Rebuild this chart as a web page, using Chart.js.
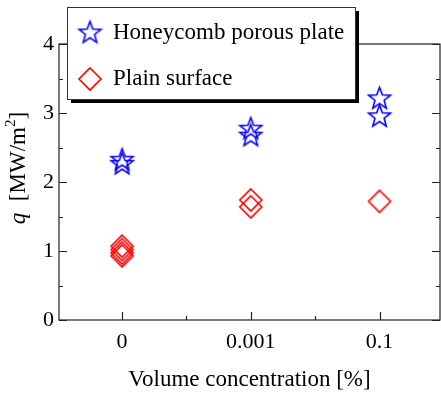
<!DOCTYPE html>
<html>
<head>
<meta charset="utf-8">
<script src="https://cdn.jsdelivr.net/npm/chart.js@4/dist/chart.umd.min.js"></script>
<style>
  body { margin: 0; background: #fff; }
  canvas { display: block; }
</style>
</head>
<body>
<canvas id="chart" width="441" height="394"></canvas>
<script>
// categories on the x axis
var categories = ["0", "0.001", "0.1"];
var yTicks = [0, 1, 2, 3, 4];

// Honeycomb porous plate
var honeyCat = ["0", "0", "0.001", "0.001", "0.1", "0.1"];
var honeyQ = [2.33, 2.27, 2.78, 2.68, 3.22, 2.96];

// Plain surface
var plainCat = ["0", "0", "0", "0", "0.001", "0.001", "0.1"];
var plainQ = [1.07, 1.02, 0.97, 0.93, 1.74, 1.64, 1.72];

var serif = "'Liberation Serif', 'Times New Roman', serif";

function toPoints(cats, vals) {
    return cats.map(function (c, i) {
        return { x: categories.indexOf(c), y: vals[i] };
    });
}

// marker images (open star / open diamond)
function makeMarker(r, color, trace) {
    var c = document.createElement("canvas");
    var s = Math.ceil(r * 2 + 4);
    c.width = s; c.height = s;
    var g = c.getContext("2d");
    trace(g, s / 2, s / 2, r);
    g.strokeStyle = color;
    g.lineWidth = 1.6;
    g.stroke();
    return c;
}
function traceStar(g, cx, cy, r) {
    var inner = r * 0.42;
    cy += 1;
    g.beginPath();
    for (var i = 0; i < 10; i++) {
        var rad = i % 2 === 0 ? r : inner;
        var a = -Math.PI / 2 + i * Math.PI / 5;
        var px = cx + rad * Math.cos(a), py = cy + rad * Math.sin(a);
        if (i === 0) g.moveTo(px, py); else g.lineTo(px, py);
    }
    g.closePath();
}
function traceDiamond(g, cx, cy, r) {
    g.beginPath();
    g.moveTo(cx, cy - r); g.lineTo(cx + r, cy);
    g.lineTo(cx, cy + r); g.lineTo(cx - r, cy);
    g.closePath();
}
var starImg = makeMarker(11.5, "#0000ff", traceStar);
var diamondImg = makeMarker(11, "#ff0000", traceDiamond);

var framePlugin = {
    id: "frame",
    afterDraw: function (chart) {
        var ctx = chart.ctx, a = chart.chartArea;
        var xs = chart.scales.x, ys = chart.scales.y;
        ctx.save();
        ctx.strokeStyle = "#222";
        ctx.lineWidth = 1.2;
        ctx.strokeRect(a.left, a.top, a.right - a.left, a.bottom - a.top);
        // inward ticks
        ctx.beginPath();
        xs.ticks.forEach(function (t) {
            var px = Math.round(xs.getPixelForValue(t.value)) + 0.5;
            var len = Number.isInteger(t.value) ? 8 : 4;
            ctx.moveTo(px, a.bottom); ctx.lineTo(px, a.bottom - len);
        });
        ys.ticks.forEach(function (t) {
            var py = Math.round(ys.getPixelForValue(t.value)) + 0.5;
            var len = Number.isInteger(t.value) ? 8 : 4;
            ctx.moveTo(a.left, py); ctx.lineTo(a.left + len, py);
            ctx.moveTo(a.right, py); ctx.lineTo(a.right - len, py);
        });
        ctx.stroke();

        // y axis title: q [MW/m2]
        ctx.translate(19, 168);
        ctx.rotate(-Math.PI / 2);
        ctx.fillStyle = "#000";
        ctx.textBaseline = "middle";
        var parts = [
            { t: "q", f: "italic 23px " + serif, dy: 0 },
            { t: "  [MW/m", f: "23px " + serif, dy: 0 },
            { t: "2", f: "15px " + serif, dy: -8 },
            { t: "]", f: "23px " + serif, dy: 0 }
        ];
        var total = 0;
        parts.forEach(function (p) { ctx.font = p.f; p.w = ctx.measureText(p.t).width; total += p.w; });
        var x = -total / 2;
        parts.forEach(function (p) {
            ctx.font = p.f;
            ctx.fillText(p.t, x, p.dy);
            x += p.w;
        });
        ctx.restore();

        // legend box with shadow
        ctx.save();
        var bx = 67, by = 7, bw = 288, bh = 92;
        ctx.fillStyle = "#000";
        ctx.fillRect(bx + 4, by + 4, bw, bh);
        ctx.fillStyle = "#fff";
        ctx.fillRect(bx, by, bw, bh);
        ctx.strokeStyle = "#333";
        ctx.lineWidth = 1;
        ctx.strokeRect(bx + 0.5, by + 0.5, bw, bh);
        ctx.drawImage(starImg, 90 - starImg.width / 2, 32 - starImg.height / 2);
        ctx.drawImage(diamondImg, 90 - diamondImg.width / 2, 79 - diamondImg.height / 2);
        ctx.fillStyle = "#000";
        ctx.font = "23px " + serif;
        ctx.textBaseline = "middle";
        ctx.fillText("Honeycomb porous plate", 113, 33);
        ctx.fillText("Plain surface", 113, 79);
        ctx.restore();
    }
};

new Chart(document.getElementById("chart"), {
    type: "scatter",
    data: {
        datasets: [{
            label: "Honeycomb porous plate",
            data: toPoints(honeyCat, honeyQ),
            pointStyle: starImg,
            pointRadius: 0.5,
            pointHoverRadius: 0.5,
            borderWidth: 0
        },
        {
            label: "Plain surface",
            data: toPoints(plainCat, plainQ),
            pointStyle: diamondImg,
            pointRadius: 0.5,
            pointHoverRadius: 0.5,
            borderWidth: 0
        }]
    },
    options: {
        responsive: false,
        devicePixelRatio: 1,
        animation: false,
        layout: { padding: { left: 0, top: 44, right: 1, bottom: 0 } },
        plugins: { legend: { display: false }, tooltip: { enabled: false } },
        scales: {
            x: {
                type: "linear",
                min: -0.49,
                max: 2.47,
                grid: { display: false, drawTicks: false },
                border: { display: false },
                afterBuildTicks: function (s) {
                    // one tick per category plus a minor one half way between
                    var t = [];
                    for (var i = 0; i < categories.length; i++) {
                        t.push({ value: i });
                        if (i < categories.length - 1) t.push({ value: i + 0.5 });
                    }
                    s.ticks = t;
                },
                afterFit: function (s) {
                    s.height = 74;
                    s.paddingLeft = 0;
                    s.paddingRight = 0;
                },
                ticks: {
                    autoSkip: false,
                    maxRotation: 0,
                    padding: 9,
                    color: "#000",
                    font: { family: serif, size: 22 },
                    callback: function (v) { return Number.isInteger(v) ? categories[v] : ""; }
                },
                title: {
                    display: true,
                    text: "Volume concentration [%]",
                    color: "#000",
                    font: { family: serif, size: 23 },
                    padding: { top: 4, bottom: 0 }
                }
            },
            y: {
                min: 0,
                max: 4,
                grid: { display: false, drawTicks: false },
                border: { display: false },
                afterFit: function (s) {
                    s.width = 59;
                    s.paddingTop = 0;
                    s.paddingBottom = 0;
                },
                ticks: {
                    stepSize: 0.5,
                    autoSkip: false,
                    padding: 5,
                    color: "#000",
                    font: { family: serif, size: 22 },
                    callback: function (v) { return yTicks.indexOf(v) >= 0 ? String(v) : ""; }
                }
            }
        }
    },
    plugins: [framePlugin]
});
</script>
</body>
</html>
